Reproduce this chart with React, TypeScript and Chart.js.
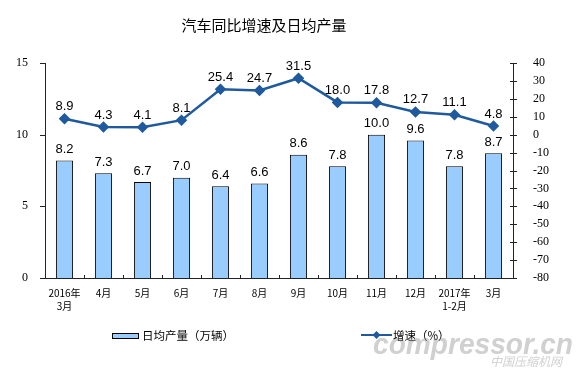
import { useEffect, useRef } from 'react';
import { Chart, registerables } from 'chart.js';

Chart.register(...registerables);

const titleText = '汽车同比增速及日均产量';
const categories: (string | string[])[] = [
  ['2016年', '3月'], '4月', '5月', '6月', '7月', '8月', '9月', '10月', '11月', '12月', ['2017年', '1-2月'], '3月',
];
const dailyOutput = [8.2, 7.3, 6.7, 7.0, 6.4, 6.6, 8.6, 7.8, 10.0, 9.6, 7.8, 8.7];
const growthRate = [8.9, 4.3, 4.1, 8.1, 25.4, 24.7, 31.5, 18.0, 17.8, 12.7, 11.1, 4.8];
const leftTicks = [0, 5, 10, 15];
const rightTicks = [-80, -70, -60, -50, -40, -30, -20, -10, 0, 10, 20, 30, 40];
const barLegend = '日均产量（万辆）';
const lineLegend = '增速（%）';

const BAR_FILL = '#99ccff';
const LINE_COLOR = '#1f5a9e';
const AXIS_COLOR = '#222222';

const decorPlugin = {
  id: 'decor',
  afterDatasetsDraw(chart: any) {
    const ctx = chart.ctx;
    ctx.save();
    ctx.font = '13px "Liberation Sans", Arial, sans-serif';
    ctx.fillStyle = '#000';
    ctx.textAlign = 'center';
    ctx.textBaseline = 'middle';
    const lineMeta = chart.getDatasetMeta(0);
    const barMeta = chart.getDatasetMeta(1);
    barMeta.data.forEach((el: any, i: number) => {
      ctx.fillText(dailyOutput[i].toFixed(1), el.x, el.y - 11);
    });
    lineMeta.data.forEach((el: any, i: number) => {
      ctx.fillText(growthRate[i].toFixed(1), el.x, el.y - 12);
    });
    ctx.restore();
  },
  afterDraw(chart: any) {
    const ctx = chart.ctx;
    const area = chart.chartArea;
    const yL = chart.scales.y;
    const yR = chart.scales.y1;
    ctx.save();
    // title
    ctx.fillStyle = '#000';
    ctx.font = '15px "Noto Sans CJK SC", sans-serif';
    ctx.textAlign = 'center';
    ctx.textBaseline = 'middle';
    ctx.fillText(titleText, 264, 25);

    // tick marks
    ctx.strokeStyle = AXIS_COLOR;
    ctx.lineWidth = 1;
    ctx.beginPath();
    leftTicks.forEach((v) => {
      const y = Math.round(yL.getPixelForValue(v)) + 0.5;
      ctx.moveTo(area.left - 5, y);
      ctx.lineTo(area.left, y);
    });
    rightTicks.forEach((v) => {
      const y = Math.round(yR.getPixelForValue(v)) + 0.5;
      ctx.moveTo(area.right - 3, y);
      ctx.lineTo(area.right + 4, y);
    });
    const n = categories.length;
    const w = (area.right - area.left) / n;
    for (let i = 1; i < n; i++) {
      const x = Math.round(area.left + i * w) + 0.5;
      ctx.moveTo(x, area.bottom);
      ctx.lineTo(x, area.bottom - 3);
    }
    ctx.stroke();

    // legend
    const ly = 336;
    ctx.fillStyle = BAR_FILL;
    ctx.fillRect(112, 333, 27, 6);
    ctx.strokeStyle = '#000';
    ctx.strokeRect(112.5, 333.5, 26, 5);
    ctx.fillStyle = '#000';
    ctx.font = '11.5px "Noto Sans CJK SC", sans-serif';
    ctx.textAlign = 'left';
    ctx.textBaseline = 'middle';
    ctx.fillText(barLegend, 142, ly);

    ctx.strokeStyle = LINE_COLOR;
    ctx.lineWidth = 2;
    ctx.beginPath();
    ctx.moveTo(361, 335);
    ctx.lineTo(392, 335);
    ctx.stroke();
    ctx.fillStyle = LINE_COLOR;
    ctx.beginPath();
    ctx.moveTo(376.5, 331);
    ctx.lineTo(380.5, 335);
    ctx.lineTo(376.5, 339);
    ctx.lineTo(372.5, 335);
    ctx.closePath();
    ctx.fill();
    ctx.fillStyle = '#000';
    ctx.fillText(lineLegend, 393, ly);

    // watermark
    ctx.globalAlpha = 0.4;
    ctx.fillStyle = '#8a8a8a';
    ctx.font = 'italic bold 30px "Liberation Sans", Arial, sans-serif';
    ctx.textBaseline = 'alphabetic';
    const wm = 'compressor.cn';
    const tw = ctx.measureText(wm).width;
    ctx.save();
    ctx.translate(373, 354);
    ctx.scale(200 / tw, 1);
    ctx.fillText(wm, 0, 0);
    ctx.restore();
    ctx.font = 'italic 12px "Noto Sans CJK SC", sans-serif';
    ctx.fillText('中国压缩机网', 490, 366);
    ctx.restore();
  },
};

export default function App() {
  const ref = useRef<HTMLCanvasElement>(null);
  useEffect(() => {
    if (!ref.current) return;
    const chart = new Chart(ref.current, {
      type: 'bar',
      data: {
        labels: categories as any,
        datasets: [
          {
            type: 'line',
            label: lineLegend,
            data: growthRate,
            yAxisID: 'y1',
            borderColor: LINE_COLOR,
            backgroundColor: LINE_COLOR,
            borderWidth: 2.5,
            pointStyle: 'rectRot',
            pointRadius: 4,
            pointBackgroundColor: LINE_COLOR,
            pointBorderColor: LINE_COLOR,
            tension: 0,
          } as any,
          {
            type: 'bar',
            label: barLegend,
            data: dailyOutput,
            yAxisID: 'y',
            backgroundColor: BAR_FILL,
            borderColor: '#000',
            borderWidth: 1,
            barPercentage: 0.44,
            categoryPercentage: 1,
          },
        ],
      },
      options: {
        responsive: false,
        animation: false,
        layout: { padding: { top: 63, left: 0, right: 0, bottom: 0 } },
        plugins: {
          legend: { display: false },
          title: { display: false },
          tooltip: { enabled: false },
        },
        scales: {
          x: {
            grid: { display: false, drawTicks: false },
            border: { display: true, color: AXIS_COLOR },
            ticks: {
              color: '#000',
              font: { family: '"Noto Sans CJK SC", sans-serif', size: 10, lineHeight: 1.3 },
              padding: 9,
              maxRotation: 0,
              autoSkip: false,
            },
            afterFit: (s: any) => { s.height = 91; },
          },
          y: {
            position: 'left',
            min: 0,
            max: 15,
            grid: { display: false, drawTicks: false },
            border: { display: true, color: AXIS_COLOR },
            ticks: {
              stepSize: 5,
              color: '#000',
              font: { family: '"Liberation Serif", serif', size: 12 },
              padding: 17,
            },
            afterFit: (s: any) => { s.width = 45; },
          },
          y1: {
            position: 'right',
            min: -80,
            max: 40,
            grid: { display: false, drawTicks: false },
            border: { display: true, color: AXIS_COLOR },
            ticks: {
              stepSize: 10,
              color: '#000',
              font: { family: '"Liberation Serif", serif', size: 12 },
              padding: 20,
            },
            afterFit: (s: any) => { s.width = 63; },
          },
        },
      },
      plugins: [decorPlugin],
    });
    return () => chart.destroy();
  }, []);
  return (
    <div style={{ position: 'fixed', left: 0, top: 0, width: 576, height: 369, background: '#fff' }}>
      <canvas ref={ref} width={576} height={369} />
    </div>
  );
}
